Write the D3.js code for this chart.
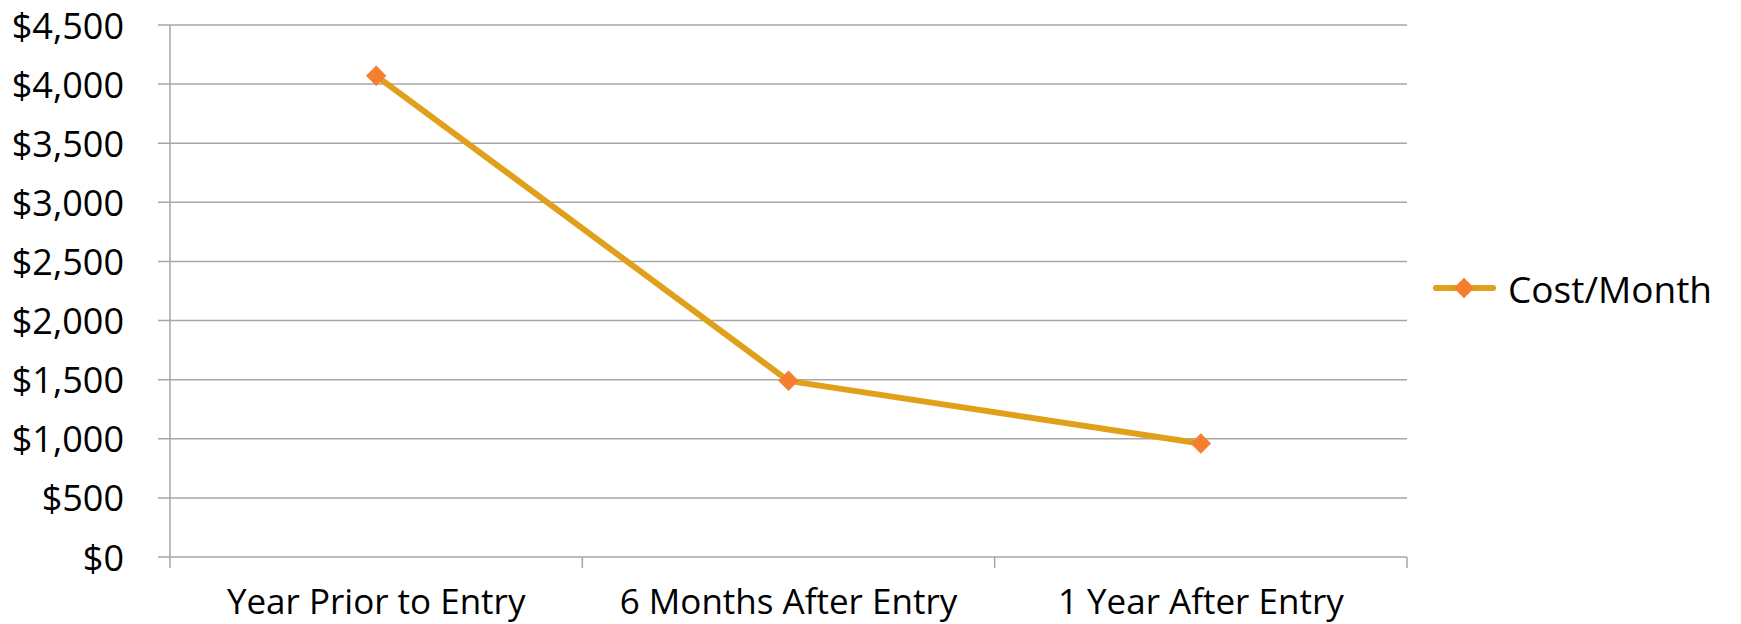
<!DOCTYPE html>
<html>
<head>
<meta charset="utf-8">
<script src="https://cdn.jsdelivr.net/npm/d3@7"></script>
<style>
  html, body { margin: 0; padding: 0; background: #fff; }
  svg { display: block; }
  text { font-family: "Open Sans", "DejaVu Sans", sans-serif; fill: #000; }
</style>
</head>
<body>
<svg id="chart" width="1741" height="624"></svg>
<script>
// Monthly cost before and after entry
const categories = ["Year Prior to Entry", "6 Months After Entry", "1 Year After Entry"];
const costPerMonth = [4070, 1490, 960];
const yTicks = [0, 500, 1000, 1500, 2000, 2500, 3000, 3500, 4000, 4500];
const seriesName = "Cost/Month";

const W = 1741, H = 624;
const plot = { left: 170, right: 1407, top: 25, bottom: 557 };
const lineColor = "#E0A01A";
const markerColor = "#F47F2E";
const gridColor = "#A6A6A6";
const fontSize = 36;

const svg = d3.select("#chart");

const x = d3.scaleBand().domain(categories).range([plot.left, plot.right]).paddingInner(0).paddingOuter(0);
const y = d3.scaleLinear().domain([0, 4500]).range([plot.bottom, plot.top]);
const fmt = d3.format("$,");

// horizontal gridlines (extending left as tick marks)
svg.append("g").selectAll("line").data(yTicks).join("line")
  .attr("x1", plot.left - 12).attr("x2", plot.right)
  .attr("y1", d => y(d)).attr("y2", d => y(d))
  .attr("stroke", gridColor).attr("stroke-width", 1.5);

// y-axis line
svg.append("line")
  .attr("x1", plot.left).attr("x2", plot.left)
  .attr("y1", plot.top).attr("y2", plot.bottom + 11)
  .attr("stroke", gridColor).attr("stroke-width", 1.5);

// category boundary ticks on the x axis
const boundaries = categories.map(c => x(c)).concat([x(categories[categories.length - 1]) + x.bandwidth()]);
svg.append("g").selectAll("line").data(boundaries.slice(1)).join("line")
  .attr("x1", d => d).attr("x2", d => d)
  .attr("y1", plot.bottom).attr("y2", plot.bottom + 11)
  .attr("stroke", gridColor).attr("stroke-width", 1.5);

// y tick labels
svg.append("g").selectAll("text").data(yTicks).join("text")
  .attr("x", 124).attr("y", d => y(d))
  .attr("text-anchor", "end").attr("dominant-baseline", "central")
  .attr("font-size", fontSize)
  .text(d => fmt(d));

// x category labels
svg.append("g").selectAll("text").data(categories).join("text")
  .attr("x", d => x(d) + x.bandwidth() / 2).attr("y", 600)
  .attr("text-anchor", "middle").attr("dominant-baseline", "central")
  .attr("font-size", 35)
  .text(d => d);

// series line
const pts = categories.map((c, i) => [x(c) + x.bandwidth() / 2, y(costPerMonth[i])]);
svg.append("path")
  .attr("d", d3.line()(pts))
  .attr("fill", "none").attr("stroke", lineColor)
  .attr("stroke-width", 6).attr("stroke-linejoin", "round");

// diamond markers
const diamond = d3.symbol().type(d3.symbolSquare).size(210);
svg.append("g").selectAll("path").data(pts).join("path")
  .attr("d", diamond())
  .attr("transform", d => `translate(${d[0]},${d[1]}) rotate(45)`)
  .attr("fill", markerColor);

// legend
const lg = svg.append("g").attr("transform", "translate(1436,288)");
lg.append("line").attr("x1", 0).attr("x2", 57).attr("y1", 0).attr("y2", 0)
  .attr("stroke", lineColor).attr("stroke-width", 6).attr("stroke-linecap", "round");
lg.append("path").attr("d", diamond()).attr("transform", "translate(28,0) rotate(45)").attr("fill", markerColor);
lg.append("text").attr("x", 72).attr("y", 0).attr("dominant-baseline", "central")
  .attr("font-size", 37).text(seriesName);
</script>
</body>
</html>
